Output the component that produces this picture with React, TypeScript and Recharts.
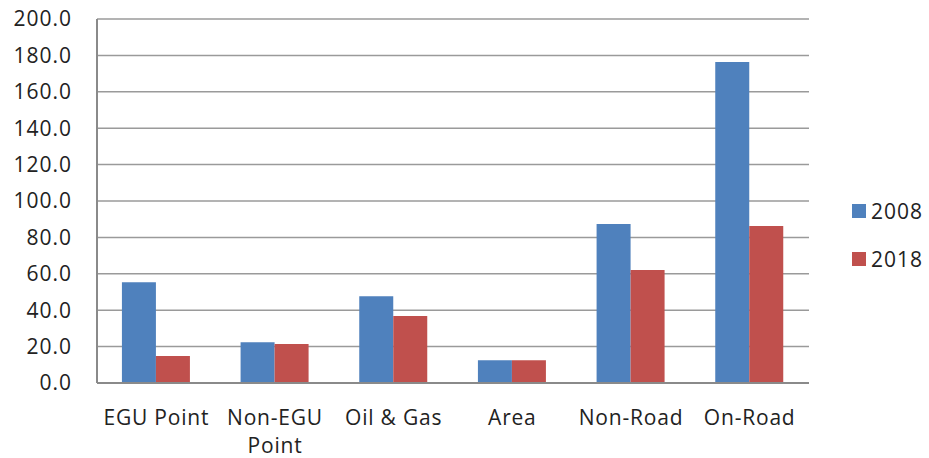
import React from "react";
import { BarChart, Bar, XAxis, YAxis, CartesianGrid, Legend } from "recharts";

const categories = ["EGU Point", "Non-EGU Point", "Oil & Gas", "Area", "Non-Road", "On-Road"];
const values2008 = [55.3, 22.4, 47.6, 12.5, 87.4, 176.4];
const values2018 = [14.8, 21.4, 36.8, 12.5, 62.1, 86.3];
const yTicks = [0, 20, 40, 60, 80, 100, 120, 140, 160, 180, 200];

const data = categories.map((name, i) => ({
  name,
  y2008: values2008[i],
  y2018: values2018[i],
}));

const FONT = "'Open Sans', sans-serif";
const FONT_SIZE = 21;
const TEXT_COLOR = "#222";

// wrap a label onto several lines when it is wider than the category band
let ctx: CanvasRenderingContext2D | null = null;
const wrapLabel = (label: string, maxWidth: number) => {
  if (!ctx) ctx = document.createElement("canvas").getContext("2d");
  if (!ctx) return [label];
  ctx.font = `${FONT_SIZE}px ${FONT}`;
  const words = label.split(" ");
  const lines: string[] = [];
  let cur = "";
  words.forEach((w) => {
    const next = cur ? cur + " " + w : w;
    if (cur && ctx!.measureText(next).width + next.length * 0.8 > maxWidth) {
      lines.push(cur);
      cur = w;
    } else {
      cur = next;
    }
  });
  if (cur) lines.push(cur);
  return lines;
};

const CategoryTick = (props: any) => {
  const { x, y, payload } = props;
  const lines = wrapLabel(String(payload.value), 118);
  return (
    <text
      x={x}
      y={y + 34}
      textAnchor="middle"
      fontFamily={FONT}
      fontSize={FONT_SIZE}
      letterSpacing={0.8}
      fill={TEXT_COLOR}
    >
      {lines.map((line, i) => (
        <tspan key={i} x={x} dy={i === 0 ? 0 : 28}>
          {line}
        </tspan>
      ))}
    </text>
  );
};

const renderLegend = (props: any) => {
  const { payload } = props;
  return (
    <div style={{ fontFamily: FONT, fontSize: FONT_SIZE, color: TEXT_COLOR }}>
      {payload.map((entry: any) => (
        <div
          key={entry.value}
          style={{ display: "flex", alignItems: "center", height: 48 }}
        >
          <span
            style={{
              display: "inline-block",
              width: 14,
              height: 14,
              background: entry.color,
              marginRight: 5,
            }}
          />
          <span style={{ letterSpacing: 1 }}>{entry.value}</span>
        </div>
      ))}
    </div>
  );
};

export default function App() {
  return (
    <div style={{ position: "absolute", left: 0, top: 0, background: "#fff" }}>
      <BarChart
        width={929}
        height={458}
        data={data}
        margin={{ top: 19, right: 40, bottom: 0, left: 0 }}
        barCategoryGap="21%"
        barGap={0}
      >
        <CartesianGrid vertical={false} stroke="#9a9a9a" strokeWidth={1.5} />
        <XAxis
          dataKey="name"
          height={75}
          axisLine={{ stroke: "#8a8a8a", strokeWidth: 2 }}
          tickLine={false}
          tick={<CategoryTick />}
          interval={0}
        />
        <YAxis
          width={97}
          domain={[0, 200]}
          ticks={yTicks}
          interval={0}
          tickFormatter={(v: number) => v.toFixed(1)}
          axisLine={{ stroke: "#8a8a8a", strokeWidth: 2 }}
          tickLine={false}
          tickSize={0}
          tickMargin={25}
          tick={{ fontFamily: FONT, fontSize: FONT_SIZE, fill: TEXT_COLOR, letterSpacing: 1 }}
        />
        <Legend
          layout="vertical"
          align="right"
          verticalAlign="middle"
          content={renderLegend}
          wrapperStyle={{ left: 852, top: 187, width: 80 }}
        />
        <Bar dataKey="y2008" name="2008" fill="#4F81BD" isAnimationActive={false} />
        <Bar dataKey="y2018" name="2018" fill="#C0504D" isAnimationActive={false} />
      </BarChart>
    </div>
  );
}
